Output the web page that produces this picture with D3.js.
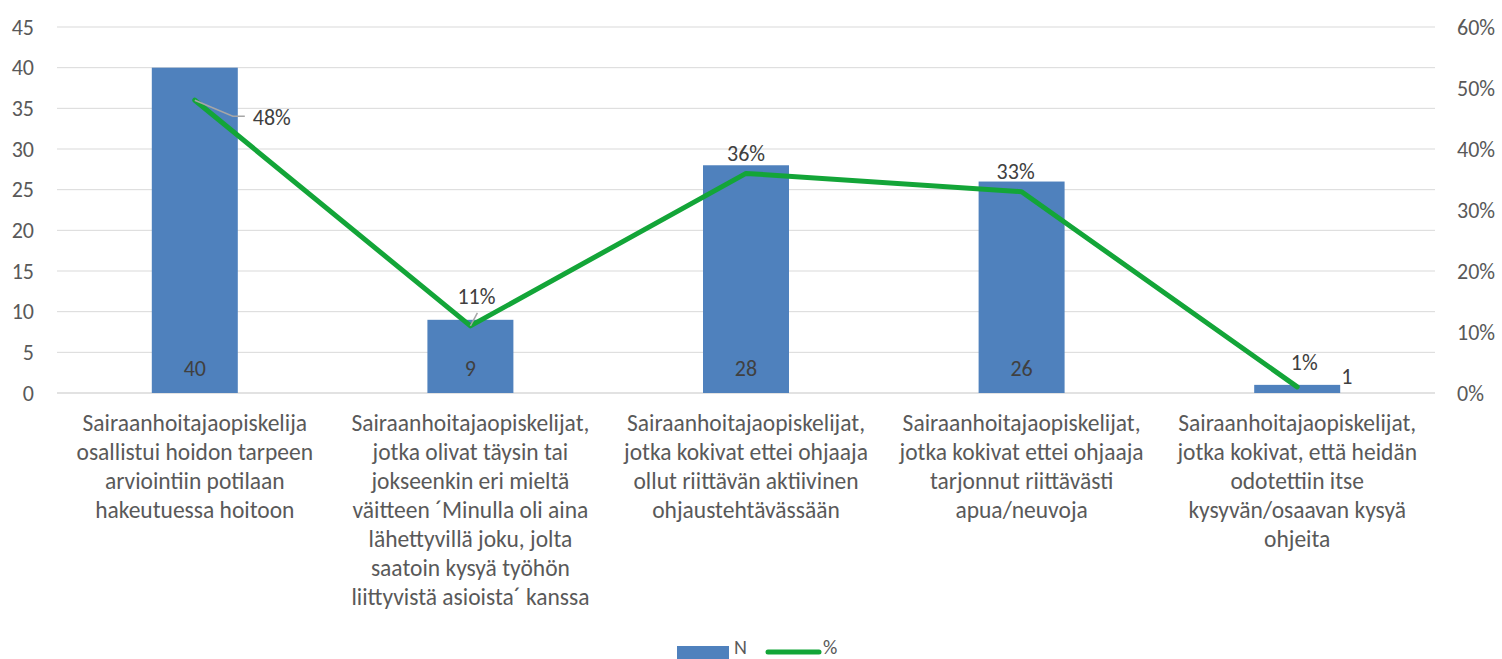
<!DOCTYPE html>
<html>
<head>
<meta charset="utf-8">
<script src="https://cdn.jsdelivr.net/npm/d3@7"></script>
<style>
  body { margin: 0; background: #fff; }
  text { font-family: Carlito, Calibri, Lato, sans-serif; fill: #595959; }
</style>
</head>
<body>
<div id="chart"></div>
<script>
// ---------- data ----------
var categories = [
  ["Sairaanhoitajaopiskelija", "osallistui hoidon tarpeen", "arviointiin potilaan", "hakeutuessa hoitoon"],
  ["Sairaanhoitajaopiskelijat,", "jotka olivat täysin tai", "jokseenkin eri mieltä", "väitteen ´Minulla oli aina", "lähettyvillä joku, jolta", "saatoin kysyä työhön", "liittyvistä asioista´ kanssa"],
  ["Sairaanhoitajaopiskelijat,", "jotka kokivat ettei ohjaaja", "ollut riittävän aktiivinen", "ohjaustehtävässään"],
  ["Sairaanhoitajaopiskelijat,", "jotka kokivat ettei ohjaaja", "tarjonnut riittävästi", "apua/neuvoja"],
  ["Sairaanhoitajaopiskelijat,", "jotka kokivat, että heidän", "odotettiin itse", "kysyvän/osaavan kysyä", "ohjeita"]
];
var nValues = [40, 9, 28, 26, 1];
var pctValues = [48, 11, 36, 33, 1];
var leftTicks = [0, 5, 10, 15, 20, 25, 30, 35, 40, 45];
var rightTicks = [0, 10, 20, 30, 40, 50, 60];

// ---------- setup ----------
var svgWidth = 1502, svgHeight = 659;
var margin = {top: 27, right: 67, bottom: 266, left: 57};
var width = svgWidth - margin.left - margin.right;
var height = svgHeight - margin.top - margin.bottom;

var svg = d3.select("#chart").append("svg").attr("width", svgWidth).attr("height", svgHeight);
var g = svg.append("g").attr("transform", `translate(${margin.left}, ${margin.top})`);

var idx = d3.range(categories.length);
var xScale = d3.scaleBand().domain(idx).range([0, width]).paddingInner(0.688).paddingOuter(0.344);
var xCenter = d3.scaleBand().domain(idx).range([0, width]);
var yLeft = d3.scaleLinear().domain([0, 45]).range([height, 0]);
var yRight = d3.scaleLinear().domain([0, 60]).range([height, 0]);

// gridlines
g.append("g").selectAll("line").data(leftTicks).enter().append("line")
  .attr("x1", 0).attr("x2", width)
  .attr("y1", d => yLeft(d)).attr("y2", d => yLeft(d))
  .attr("stroke", "#d9d9d9").attr("stroke-width", d => d === 0 ? 1.5 : 1);

// axes
var axL = g.append("g").call(d3.axisLeft(yLeft).tickValues(leftTicks).tickSize(0).tickPadding(23));
axL.select(".domain").remove();
axL.selectAll("text").attr("font-size", "22px").style("fill", "#595959");

var axR = g.append("g").attr("transform", `translate(${width}, 0)`)
  .call(d3.axisRight(yRight).tickValues(rightTicks).tickSize(0).tickPadding(22).tickFormat(d => d + "%"));
axR.select(".domain").remove();
axR.selectAll("text").attr("font-size", "22px").style("fill", "#595959");

// bars
g.append("g").selectAll("rect").data(nValues).enter().append("rect")
  .attr("x", (d, i) => xScale(i))
  .attr("y", d => yLeft(d))
  .attr("width", xScale.bandwidth())
  .attr("height", d => height - yLeft(d))
  .attr("fill", "#4f81bd");

// bar labels
g.append("g").selectAll("text").data(nValues).enter().append("text")
  .attr("x", (d, i) => d < 3 ? xScale(i) + xScale.bandwidth() + 1 : xCenter(i) + xCenter.bandwidth() / 2)
  .attr("y", d => d < 3 ? yLeft(d) - 8 : height - 25)
  .attr("text-anchor", d => d < 3 ? "start" : "middle")
  .attr("dominant-baseline", "central")
  .attr("font-size", "22px")
  .style("fill", "#404040")
  .text(d => d);

// percent line
var cx = i => xCenter(i) + xCenter.bandwidth() / 2;
var line = d3.line().x((d, i) => cx(i)).y(d => yRight(d));
g.append("path").datum(pctValues)
  .attr("d", line)
  .attr("fill", "none")
  .attr("stroke", "#13a538")
  .attr("stroke-width", 5)
  .attr("stroke-linejoin", "round")
  .attr("stroke-linecap", "round");

// percent labels (offsets as placed in the original)
var pctOffsets = [[77, 17], [6, -29], [0, -20], [-6, -20], [7, -24]];
g.append("g").selectAll("text").data(pctValues).enter().append("text")
  .attr("x", (d, i) => cx(i) + pctOffsets[i][0])
  .attr("y", d => yRight(d))
  .attr("dy", (d, i) => pctOffsets[i][1])
  .attr("text-anchor", "middle")
  .attr("dominant-baseline", "central")
  .attr("font-size", "22px")
  .style("fill", "#404040")
  .text(d => d + "%");

// leader lines
g.append("path")
  .attr("d", `M${cx(0)},${yRight(48)} L${cx(0) + 38},${yRight(48) + 16} L${cx(0) + 50},${yRight(48) + 16}`)
  .attr("fill", "none").attr("stroke", "#a6a6a6").attr("stroke-width", 1.5);
g.append("path")
  .attr("d", `M${cx(1)},${yRight(11)} L${cx(1) + 7},${yRight(11) - 13}`)
  .attr("fill", "none").attr("stroke", "#a6a6a6").attr("stroke-width", 1.5);

// category labels
var cat = g.append("g").attr("transform", `translate(0, ${height})`);
categories.forEach(function(lines, i) {
  var t = cat.append("text")
    .attr("x", cx(i))
    .attr("y", 38)
    .attr("text-anchor", "middle")
    .attr("font-size", "23.5px")
    .style("fill", "#595959");
  lines.forEach(function(l, j) {
    t.append("tspan").attr("x", cx(i)).attr("dy", j === 0 ? 0 : 29).text(l);
  });
});

// legend
var leg = svg.append("g");
leg.append("rect").attr("x", 677).attr("y", 646).attr("width", 52).attr("height", 13).attr("fill", "#4f81bd");
leg.append("text").attr("x", 734).attr("y", 654).attr("font-size", "20px").style("fill", "#595959").text("N");
leg.append("line").attr("x1", 768).attr("x2", 819).attr("y1", 652).attr("y2", 652)
  .attr("stroke", "#13a538").attr("stroke-width", 5).attr("stroke-linecap", "round");
leg.append("text").attr("x", 823).attr("y", 654).attr("font-size", "20px").style("fill", "#595959").text("%");
</script>
</body>
</html>
